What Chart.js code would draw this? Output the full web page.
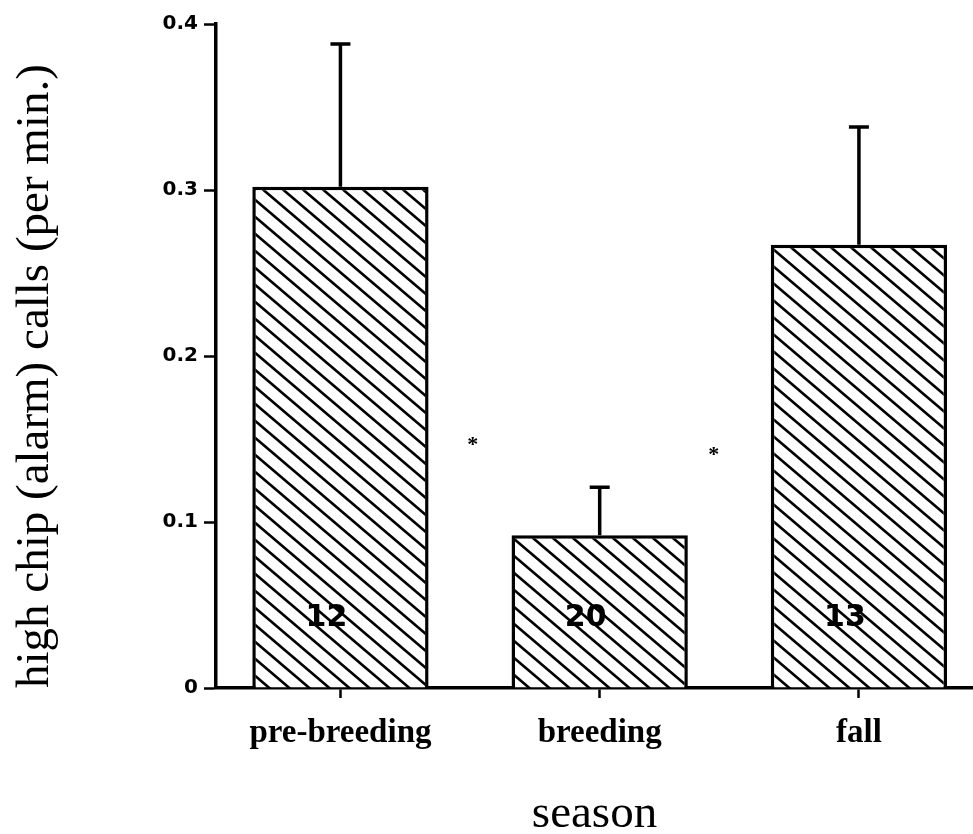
<!DOCTYPE html>
<html>
<head>
<meta charset="utf-8">
<script src="https://cdn.jsdelivr.net/npm/chart.js@4/dist/chart.umd.min.js"></script>
<style>
  html, body { margin: 0; padding: 0; background: #fff; }
  #wrap { width: 973px; height: 834px; }
</style>
</head>
<body>
<div id="wrap"><canvas id="alarm-chart" width="973" height="834"></canvas></div>
<script>
// values
const seasons = ['pre-breeding', 'breeding', 'fall'];
const meanCalls = [0.302, 0.092, 0.267];
const seCalls = [0.086, 0.029, 0.071];
const sampleSizes = [12, 20, 13];
// significance stars, placed between bars (x in bar index units, y in calls/min)
const starX = [0.51, 1.44];
const starY = [0.149, 0.143];

// diagonal hatch like the scanned figure
const makeHatch = () => {
  const w = 20, h = 17;
  const c = document.createElement('canvas');
  c.width = w; c.height = h;
  const g = c.getContext('2d');
  g.fillStyle = '#fff';
  g.fillRect(0, 0, w, h);
  g.strokeStyle = '#000';
  g.lineWidth = 2.6;
  [-w, 0, w].forEach(dx => {
    g.beginPath();
    g.moveTo(dx - w, -h);
    g.lineTo(dx + 2 * w, 2 * h);
    g.stroke();
  });
  return g.createPattern(c, 'repeat');
};

const ctx = document.getElementById('alarm-chart').getContext('2d');
const hatch = makeHatch();

const extras = {
  id: 'extras',
  afterDatasetsDraw(chart) {
    const x = chart.scales.x, y = chart.scales.y;
    const c = chart.ctx;
    c.save();
    // error bars (upper only)
    c.strokeStyle = '#000';
    c.lineWidth = 3.5;
    meanCalls.forEach((m, i) => {
      const px = x.getPixelForValue(i);
      const y0 = y.getPixelForValue(m);
      const y1 = y.getPixelForValue(m + seCalls[i]);
      c.beginPath();
      c.moveTo(px, y0);
      c.lineTo(px, y1);
      c.moveTo(px - 10, y1);
      c.lineTo(px + 10, y1);
      c.stroke();
    });
    // sample sizes inside bars
    c.fillStyle = '#000';
    c.font = 'bold 30px "DejaVu Sans"';
    c.textAlign = 'center';
    c.textBaseline = 'middle';
    sampleSizes.forEach((n, i) => {
      c.fillText(String(n), x.getPixelForValue(i) - 14, y.getPixelForValue(0.042));
    });
    // stars
    c.font = 'bold 22px "Liberation Serif"';
    starX.forEach((sx, i) => {
      c.fillText('*', x.getPixelForValue(sx), y.getPixelForValue(starY[i]) + 5);
    });
    c.restore();
  }
};

new Chart(ctx, {
  type: 'bar',
  data: {
    datasets: [{
      data: meanCalls.map((v, i) => ({ x: i, y: v })),
      backgroundColor: hatch,
      borderColor: '#000',
      borderWidth: 3.5,
      borderSkipped: 'bottom',
      barPercentage: 0.68,
      categoryPercentage: 1
    }]
  },
  options: {
    responsive: false,
    animation: false,
    layout: { padding: { top: 24, left: 0, right: 0, bottom: 0 } },
    plugins: {
      legend: { display: false },
      tooltip: { enabled: false }
    },
    scales: {
      x: {
        type: 'linear',
        min: -0.48,
        max: 2.44,
        offset: false,
        afterBuildTicks: (axis) => { axis.ticks = seasons.map((s, i) => ({ value: i })); },
        afterFit: (s) => { s.height = 146; },
        grid: {
          offset: false,
          drawOnChartArea: false,
          drawTicks: true,
          tickLength: 10,
          tickWidth: 2.5,
          tickColor: '#000'
        },
        border: { display: true, color: '#000', width: 3.5 },
        ticks: {
          padding: 16,
          color: '#000',
          maxRotation: 0,
          font: { family: 'Liberation Serif', size: 33, weight: 'bold' },
          callback: (v) => seasons[v]
        },
        title: {
          display: true,
          text: 'season',
          color: '#000',
          font: { family: 'Liberation Serif', size: 47, lineHeight: 0.8 },
          padding: { top: 0, bottom: 1 }
        }
      },
      y: {
        min: 0,
        max: 0.4,
        afterFit: (s) => { s.width = 216; },
        grid: {
          drawOnChartArea: false,
          drawTicks: true,
          tickLength: 12,
          tickWidth: 2.5,
          tickColor: '#000'
        },
        border: { display: true, color: '#000', width: 3.5 },
        ticks: {
          stepSize: 0.1,
          padding: 6,
          color: '#000',
          font: { family: 'DejaVu Sans', size: 20, weight: 'bold' },
          callback: (v) => v === 0 ? '0' : v.toFixed(1)
        },
        title: {
          display: true,
          text: 'high chip (alarm) calls (per min.)',
          align: 'start',
          color: '#000',
          font: { family: 'Liberation Serif', size: 47, lineHeight: 1 },
          padding: { top: 12, bottom: 0 }
        }
      }
    }
  },
  plugins: [extras]
});
</script>
</body>
</html>
